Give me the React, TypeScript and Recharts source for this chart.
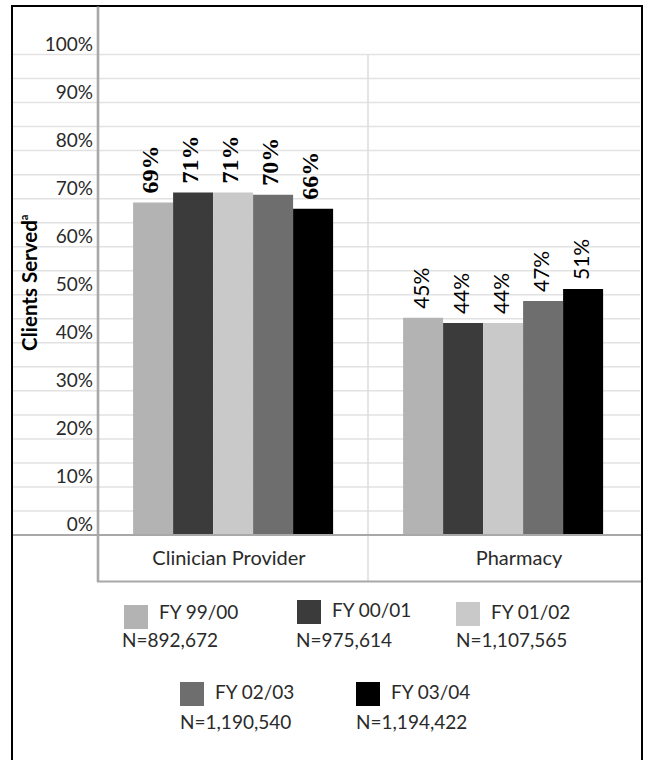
import React from 'react';
import { BarChart, Bar, XAxis, YAxis, CartesianGrid, ReferenceLine, LabelList, Legend } from 'recharts';

// ---- data ----
const categories = ['Clinician Provider', 'Pharmacy'];
const fy9900 = [69.2, 45.2];
const fy0001 = [71.3, 44.1];
const fy0102 = [71.3, 44.1];
const fy0203 = [70.8, 48.7];
const fy0304 = [67.9, 51.2];
const lbl9900 = ['69%', '45%'];
const lbl0001 = ['71%', '44%'];
const lbl0102 = ['71%', '44%'];
const lbl0203 = ['70%', '47%'];
const lbl0304 = ['66%', '51%'];
const seriesNames = ['FY 99/00', 'FY 00/01', 'FY 01/02', 'FY 02/03', 'FY 03/04'];
const seriesN = ['N=892,672', 'N=975,614', 'N=1,107,565', 'N=1,190,540', 'N=1,194,422'];
const yTicks = [0, 5, 10, 15, 20, 25, 30, 35, 40, 45, 50, 55, 60, 65, 70, 75, 80, 85, 90, 95, 100];
const yAxisTitle = 'Clients Served';
const yAxisSup = 'a';

// ---- styles ----
const seriesColors = ['#b3b3b3', '#3b3b3b', '#c9c9c9', '#6e6e6e', '#000000'];
const SANS = 'Lato, "Open Sans", sans-serif';
const SERIF = '"Liberation Serif", "DejaVu Serif", serif';
const YAXIS_W = 85;
const TEXT_COLOR = '#2a2a2a';

const seriesValues = [fy9900, fy0001, fy0102, fy0203, fy0304];
const seriesLabels = [lbl9900, lbl0001, lbl0102, lbl0203, lbl0304];
const seriesKeys = seriesNames.map((_, i) => `s${i}`);

const data = categories.map((c, i) => {
  const row: any = { category: c };
  seriesKeys.forEach((k, j) => {
    row[k] = seriesValues[j][i];
  });
  return row;
});

const makeLabel = (labels: string[]) => (props: any) => {
  const vb = props.viewBox && props.viewBox.width !== undefined ? props.viewBox : props;
  const x = Number(vb.x);
  const y = Number(vb.y);
  const w = Number(vb.width);
  const index = props.index;
  const cx = x + w / 2 - 3;
  const ty = y - 9;
  const isClin = index === 0;
  return (
    <text
      x={cx}
      y={ty}
      transform={`rotate(-90, ${cx}, ${ty})`}
      textAnchor="start"
      dominantBaseline="central"
      fontFamily={isClin ? SERIF : SANS}
      fontWeight={isClin ? 700 : 400}
      fontSize={isClin ? 24 : 21}
      fill="#000"
    >
      {labels[index]}
    </text>
  );
};

const YTick = (props: any) => {
  const { x, y, payload } = props;
  if (payload.value % 10 !== 0) return null;
  return (
    <text x={x} y={y - 4} textAnchor="end" fontFamily={SANS} fontSize={19} fill={TEXT_COLOR}>
      {`${payload.value}%`}
    </text>
  );
};

const catDx = [-4, 16];
const XTick = (props: any) => {
  const { x, y, payload, index } = props;
  return (
    <text x={x + (catDx[index] || 0)} y={y + 30} textAnchor="middle" fontFamily={SANS} fontSize={20} fill={TEXT_COLOR}>
      {payload.value}
    </text>
  );
};

const YLabel = (props: any) => {
  const vb = props.viewBox || { x: 13, y: 54, width: 85, height: 480 };
  const lx = vb.x + 24;
  const ly = vb.y + vb.height / 2 - 12;
  return (
    <text
      x={lx}
      y={ly}
      transform={`rotate(-90, ${lx}, ${ly})`}
      textAnchor="middle"
      fontFamily={SANS}
      fontWeight={700}
      fontSize={20.5}
      fill="#000"
    >
      {yAxisTitle}
      <tspan fontSize={11} dy={-9}>{yAxisSup}</tspan>
    </text>
  );
};

const legendLayout = [
  { x: 124, sy: 7, ty: 21, nx: 122, ny: 49 },
  { x: 297, sy: 2, ty: 19, nx: 296, ny: 49 },
  { x: 456, sy: 4, ty: 21, nx: 456, ny: 49 },
  { x: 180, sy: 84, ty: 101, nx: 180, ny: 131 },
  { x: 356, sy: 84, ty: 101, nx: 356, ny: 131 },
];

const LegendContent = (props: any) => {
  const payload = props.payload || [];
  return (
    <svg width={646} height={150} style={{ display: 'block' }}>
      {payload.map((p: any, i: number) => {
        const idx = seriesKeys.indexOf(p.dataKey);
        const k = idx >= 0 ? idx : i;
        const L = legendLayout[k];
        return (
          <g key={k}>
            <rect x={L.x} y={L.sy} width={24} height={24} fill={seriesColors[k]} />
            <text x={L.x + 35} y={L.ty} fontFamily={SANS} fontSize={19} fill={TEXT_COLOR}>
              {seriesNames[k]}
            </text>
            <text x={L.nx} y={L.ny} fontFamily={SANS} fontSize={19} fill={TEXT_COLOR}>
              {seriesN[k]}
            </text>
          </g>
        );
      })}
    </svg>
  );
};

const GridLine = (p: any) => (
  <line
    key={p.key}
    x1={p.x1 - YAXIS_W}
    x2={p.x2 + 2}
    y1={p.y1}
    y2={p.y2}
    stroke="#e2e2e2"
    strokeWidth={1.5}
  />
);

const AxisLineShape = (p: any) => {
  const top = Math.min(p.y1, p.y2);
  const bottom = Math.max(p.y1, p.y2);
  return <line x1={p.x1} x2={p.x2} y1={top - 48} y2={bottom + 47} stroke="#a8a8a8" strokeWidth={2.6} />;
};

const SeparatorShape = (p: any) => {
  const top = Math.min(p.y1, p.y2);
  const bottom = Math.max(p.y1, p.y2);
  return <line x1={p.x1} x2={p.x2} y1={top} y2={bottom + 46} stroke="#dcdcdc" strokeWidth={1.5} />;
};

const BaseShape = (p: any) => {
  const left = Math.min(p.x1, p.x2);
  const right = Math.max(p.x1, p.x2);
  return (
    <g>
      <line x1={left - YAXIS_W} x2={right + 3} y1={p.y1} y2={p.y2} stroke="#a8a8a8" strokeWidth={2.2} />
      <line x1={left - 1} x2={right + 3} y1={p.y1 + 46.5} y2={p.y2 + 46.5} stroke="#a8a8a8" strokeWidth={2.2} />
    </g>
  );
};

export default function App() {
  return (
    <div style={{ position: 'absolute', left: 0, top: 0, width: 646, height: 760, overflow: 'hidden', background: '#fff' }}>
      <div
        style={{
          position: 'absolute',
          left: 11,
          top: 5,
          width: 632,
          height: 820,
          border: '2.5px solid #000',
          boxSizing: 'border-box',
        }}
      />
      <div style={{ position: 'absolute', left: 0, top: 0 }}>
        <BarChart
          width={646}
          height={760}
          data={data}
          margin={{ top: 54.5, right: 8, bottom: 178, left: 13 }}
          barCategoryGap="13%"
          barGap={0}
        >
          <CartesianGrid vertical={false} horizontal={GridLine as any} />
          <XAxis
            dataKey="category"
            axisLine={false}
            tickLine={false}
            tickSize={0}
            tickMargin={0}
            height={47}
            tick={<XTick />}
            interval={0}
          />
          <YAxis
            width={YAXIS_W}
            domain={[0, 100]}
            ticks={yTicks}
            interval={0}
            axisLine={false}
            tickLine={false}
            tickSize={0}
            tickMargin={5}
            tick={<YTick />}
            label={{ content: (p: any) => <YLabel {...p} /> } as any}
          />
          {seriesKeys.map((k, i) => (
            <Bar key={k} dataKey={k} name={seriesNames[i]} fill={seriesColors[i]} isAnimationActive={false}>
              <LabelList dataKey={k} content={makeLabel(seriesLabels[i]) as any} />
            </Bar>
          ))}
          <ReferenceLine x="Clinician Provider" position="start" shape={AxisLineShape as any} />
          <ReferenceLine x="Clinician Provider" position="end" shape={SeparatorShape as any} />
          <ReferenceLine y={0} shape={BaseShape as any} />
          <Legend
            layout="horizontal"
            verticalAlign="middle"
            align="center"
            wrapperStyle={{ top: 598, left: 0, width: 646 }}
            content={<LegendContent />}
          />
        </BarChart>
      </div>
    </div>
  );
}
